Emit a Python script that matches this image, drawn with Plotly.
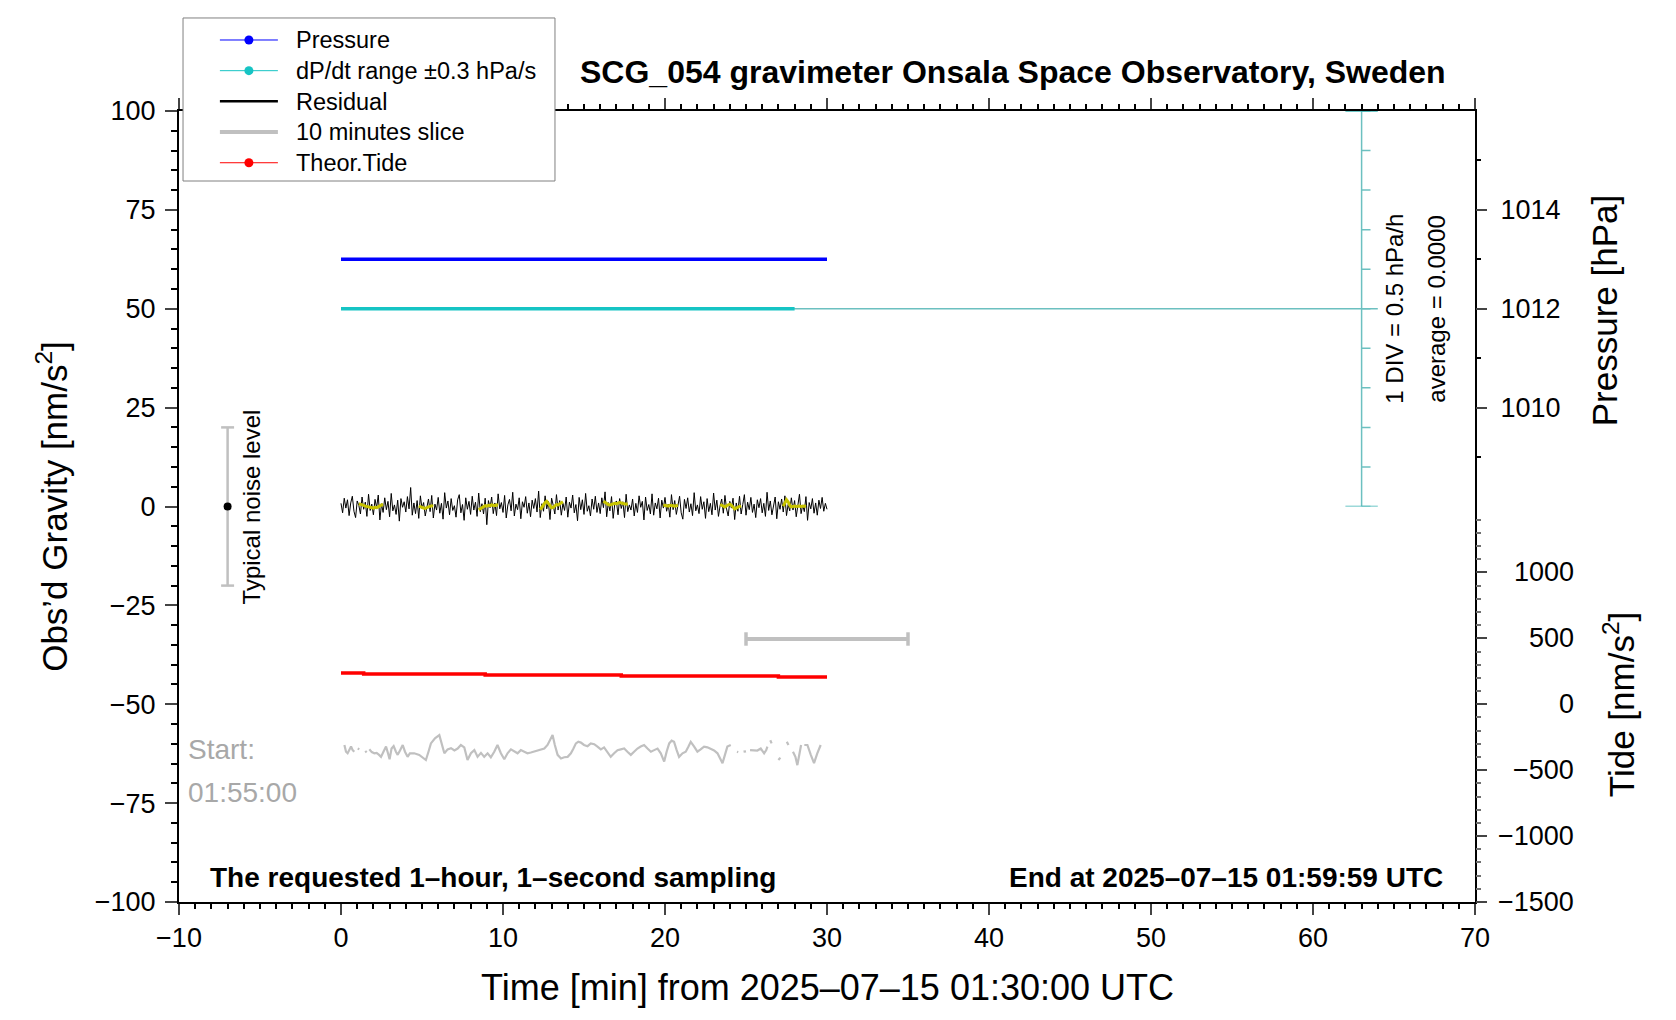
import numpy as np
import plotly.graph_objects as go

# ------------------------------------------------------------------ data
# Residual gravity (nm/s^2), one reading every 0.1 min from 0 to 30 min
residual_step_min = 0.1
residual_values = [
    0.8, -1.6, 2.1, -0.4, 1.7, -2.3, 0.9, 2.6, -1.2, -2.8, 1.4, 0.3, -1.9, 2.4, -0.7, 1.1, -2.5, 3.1, -1.0, 0.6,
    -2.1, 1.8, -0.3, 2.9, -3.4, 0.7, -1.5, 2.2, -0.8, 1.3, -2.6, 3.3, -1.1, 0.4, -2.0, 1.6, -3.7, 2.0, -0.2, 1.2,
    -1.4, 2.5, -0.6, 4.8, -2.2, 0.9, -1.8, 1.5, -3.0, 2.7, -0.5, 1.0, -2.4, 0.3, 1.9, -1.3, 2.8, -2.9, 0.6, -0.9,
    2.3, -1.7, 0.8, -3.2, 3.5, -0.4, 1.4, -2.1, 2.0, -1.0, 0.2, -2.7, 1.7, 3.0, -1.6, 0.5, -3.5, 2.2, -0.7, 1.3,
    -2.0, 2.6, -0.9, 1.1, -2.5, 3.4, -1.3, 0.7, -1.9, 2.1, -4.6, 1.5, -0.3, 2.4, -1.8, 0.9, -2.3, 3.2, -0.6, 1.0,
    -1.5, 2.8, -2.9, 0.4, 1.8, -1.1, 3.6, -2.4, 0.6, -0.8, 2.2, -3.1, 1.2, -0.2, 2.5, -1.7, 0.9, -2.6, 1.6, -0.5,
    2.0, -1.4, 3.9, -2.8, 0.7, -1.2, 2.7, -0.6, 1.3, -3.3, 2.1, 0.3, -1.9, 3.0, -0.9, 1.5, -2.2, 0.8, -1.0, 2.4,
    -2.7, 1.1, -0.4, 2.9, -1.6, 0.5, -3.6, 2.3, -0.8, 1.7, -2.0, 3.3, -1.2, 0.2, -2.4, 1.9, -0.7, 2.6, -1.5, 0.9,
    -1.8, 2.2, -0.3, 3.7, -2.6, 1.0, -1.1, 2.5, -3.0, 0.6, 1.4, -2.1, 2.0, -0.5, 1.2, -2.8, 3.1, -1.3, 0.4, -0.9,
    1.9, -2.4, 0.8, -1.5, 2.7, -0.2, 1.3, -3.4, 2.4, -1.0, 0.5, -1.9, 3.2, -2.2, 0.9, -0.6, 2.1, -2.9, 1.6, -0.4,
    2.3, -1.2, 0.6, -2.7, 3.0, -0.8, 1.5, -2.0, 0.3, 2.6, -1.6, -3.2, 1.8, -0.5, 2.2, -1.4, 0.7, -2.3, 3.5, -1.1,
    0.4, -1.8, 2.5, -0.7, 1.2, -3.0, 2.0, -1.3, 0.8, -2.1, 3.4, -0.9, 1.6, -2.5, 0.2, 1.9, -1.7, 2.8, -0.6, -2.4,
    1.3, -0.4, 2.1, -3.3, 0.9, -1.2, 2.6, -1.9, 0.5, 3.0, -2.2, 1.1, -0.8, 2.3, -1.5, 0.6, -2.8, 1.7, -0.3, 2.0,
    -1.6, 0.8, -2.5, 3.6, -1.0, 1.4, -2.1, 0.3, 2.4, -3.1, 1.2, -0.7, 1.9, -1.4, 2.7, -2.3, 0.5, -1.1, 2.2, -0.9,
    1.5, -2.6, 0.7, 3.1, -1.8, 0.4, -1.3, 2.5, -3.5, 1.0, -0.6, 2.0, -1.7, 0.9, -2.2, 1.6, -0.5, 2.3, -1.2, 0.8,
    -0.7,
]

# Smoothed residual windows (yellow), start minute of each window, 0.1 min step
smooth_starts = [1.1, 4.8, 8.5, 12.3, 16.2, 19.9, 23.4, 27.3]
smooth_segments = [
    [0.7, 0.6, 0.5, 0.3, 0.1, 0.0, -0.2, -0.3, -0.3, -0.4, -0.2, -0.3, -0.1, 0.2, 0.4, 0.5],
    [0.1, 0.0, -0.2, -0.4, -0.5, -0.3, -0.1, 0.0, 0.2, 0.1],
    [-0.8, -0.6, -0.2, 0.0, 0.2, 0.1, 0.3, 0.2, 0.4, 0.3, 0.2, 0.4, 0.3],
    [-0.8, -0.3, 0.4, 1.0, 1.3, 0.8, 0.2, -0.3, -0.2, 0.2, 0.5, 0.4, 0.6, 0.9, 1.2],
    [1.3, 1.0, 0.7, 0.5, 0.4, 0.6, 0.7, 0.8, 0.7, 0.9, 1.0, 0.9, 0.8, 0.7, 0.6, 0.7],
    [0.2, 0.3, 0.2, 0.1, 0.3, 0.2, 0.2, 0.1, 0.2, 0.3],
    [0.5, 0.3, 0.0, -0.1, 0.2, 0.5, 0.6, 0.3, -0.2, -0.6, -0.4, -0.1, 0.0, 0.1],
    [0.1, 1.0, 1.7, 1.2, 0.3, -0.1, 0.0, 0.1, 0.0, 0.1, 0.1, 0.0, 0.1, 0.1, 0.0],
]

# Pressure (hPa)
pressure_minutes = [0, 30]
pressure_hpa = [1013.0, 1013.0]

# dP/dt (hPa/h)
dpdt_minutes = [0, 28]
dpdt_hpa_h = [0.0, 0.0]
dpdt_average = 0.0
dpdt_div = 0.5          # hPa/h per division
dpdt_ndiv_half = 5

# Theoretical tide (nm/s^2), step values
tide_minutes = [0, 1.4, 8.9, 17.3, 27.0, 30.0]
tide_nms2 = [237, 230, 222, 215, 207, 207]

# 10 minutes slice (deviation in nm/s^2), None = gap
slice_minutes = [
    0.21, 0.31, 0.41, 0.52, 0.62, 0.72, 0.82, None,
    1.03, 1.13, None,
    1.50, 1.58, None,
    1.75, 1.90, 2.06, 2.20, 2.35, 2.47, 2.62, 2.78, 2.90, 3.00, 3.12, 3.25, 3.39, 3.50, 3.65, 3.81,
    3.95, 4.11, 4.25, 4.40, 4.52, 4.83, 5.05, 5.24, 5.40, 5.55, 5.80, 6.07, 6.38, 6.58, 6.79, 7.00,
    7.20, 7.40, 7.61, 7.81, 8.02, 8.23, 8.43, 8.64, 8.84, 9.05, 9.25, 9.46, 9.66, 9.87, 10.08, 10.28,
    10.49, 10.69, 10.90, 11.10, 11.30, 11.51, 11.72, 11.92, 12.13, 12.34, 12.55, 12.75, 12.90, 13.06,
    13.20, 13.37, 13.58, 13.78, 13.99, 14.19, 14.35, 14.50, 14.65, 14.81, 15.00, 15.22, 15.42, 15.63,
    15.83, 16.04, 16.24, 16.45, 16.65, 16.86, 17.07, 17.27, 17.48, 17.68, 17.89, 18.09, 18.30, 18.50,
    18.71, 18.92, 19.13, 19.33, 19.54, 19.74, 19.95, 20.10, 20.26, 20.41, 20.56, 20.72, 20.87, 21.08,
    21.28, 21.45, 21.59, 21.80, 22.00, 22.20, 22.41, 22.62, 22.82, 23.03, 23.24, 23.40, 23.55, 23.70,
    23.85, 24.06, None,
    24.44, 24.52, None,
    24.85, 25.00, None,
    25.25, 25.45, 25.70, 25.91, 26.05, 26.12, 26.25, 26.32, None,
    26.50, 26.58, None,
    27.00, 27.12, None,
    27.52, 27.62, None,
    27.90, 28.05, 28.17, 28.28, 28.40, None,
    28.60, 28.79, 29.00, 29.20, 29.40, 29.61,
]
slice_values = [
    1.7, 0.0, -0.4, 0.6, 1.3, 0.4, 0.0, None,
    0.8, 0.6, None,
    0.2, -0.2, None,
    0.6, -0.1, -0.4, -0.3, -0.8, -1.3, 0.0, 1.3, -0.4, -1.9, 0.8, 1.4, 0.0, -0.8, 0.4, 1.7,
    0.0, -1.3, -0.4, -0.3, -0.4, -0.8, -1.4, -2.1, 0.0, 2.1, 3.4, 4.2, -0.4, 0.6, 0.9, 0.3,
    0.8, 1.7, 1.1, -2.1, -0.4, 0.4, -1.3, -0.3, -1.3, -0.4, -1.4, 0.0, 1.7, -0.4, -1.9, -0.4,
    0.6, 0.0, -0.4, 0.4, 0.0, -0.4, -0.2, 0.0, 0.3, 0.4, 0.8, 1.7, 2.9, 4.2,
    1.7, -0.8, -1.7, -1.4, -1.3, -0.4, 0.8, 2.1, 2.5, 2.3, 1.7, 1.4, 2.1, 1.9,
    1.3, 0.6, 1.1, 0.0, -1.3, -0.4, 0.4, 0.6, 0.8, 0.0, -0.8, 0.0, 0.8, 1.3,
    1.7, 0.8, 0.0, 0.4, 0.8, -0.4, -2.5, 0.0, 2.1, 2.8, 2.5, 0.4, -1.3, -0.4,
    0.0, 1.3, 2.5, 1.3, 0.0, 0.6, 1.3, 1.1, 0.8, 0.3, -0.4, -1.7, -2.9, -0.8,
    1.3, 1.7, None,
    0.0, -0.1, None,
    0.0, 0.1, None,
    0.4, 0.4, 0.3, 0.8, 0.0, -0.4, 0.4, 1.3, None,
    2.9, 2.1, None,
    -2.1, -1.5, None,
    2.5, 1.7, None,
    0.0, -1.3, -3.4, -0.8, 1.7, None,
    1.7, 1.7, -0.8, -2.9, -0.4, 1.7,
]
slice_baseline = -62.0

noise_level = 20.0          # typical noise, +/- nm/s^2

gravity_ticks = [-100, -75, -50, -25, 0, 25, 50, 75, 100]
pressure_ticks = [1010, 1012, 1014]
pressure_minor = [1009, 1011, 1013, 1015]
tide_ticks = [-1500, -1000, -500, 0, 500, 1000]
tide_tick_labels = ["\u22121500", "\u22121000", "\u2212500", "0", "500", "1000"]
tide_minor = [v for v in range(-1400, 1500, 100) if v % 500 != 0]
time_ticks = [-10, 0, 10, 20, 30, 40, 50, 60, 70]

legend_names = ["Pressure", "dP/dt range \u00b10.3 hPa/s", "Residual", "10 minutes slice", "Theor.Tide"]

# ------------------------------------------------------------------ style
FONT = "Liberation Sans, Arial, Helvetica, sans-serif"
BLUE = "#0000ff"
CYAN = "#16c4c4"
CYAN_THIN = "#6cc0c0"
RED = "#ff0000"
GRAY = "#c0c0c0"
YELLOW = "#c8c400"
TICK_FONT = 27
TITLE_FONT = 35


def leg(name):
    return '<span style="font-size:23.5px">\u00a0\u00a0' + name + '</span>'


fig = go.Figure()

# ---- legend-only entries
fig.add_trace(go.Scatter(x=[None], y=[None], name=leg(legend_names[0]), mode="lines+markers",
                         line=dict(color=BLUE, width=1), marker=dict(color=BLUE, size=9)))
fig.add_trace(go.Scatter(x=[None], y=[None], name=leg(legend_names[1]), mode="lines+markers",
                         line=dict(color=CYAN, width=1), marker=dict(color=CYAN, size=9)))
fig.add_trace(go.Scatter(x=[None], y=[None], name=leg(legend_names[2]), mode="lines",
                         line=dict(color="black", width=2.5)))
fig.add_trace(go.Scatter(x=[None], y=[None], name=leg(legend_names[3]), mode="lines",
                         line=dict(color=GRAY, width=4)))
fig.add_trace(go.Scatter(x=[None], y=[None], name=leg(legend_names[4]), mode="lines+markers",
                         line=dict(color=RED, width=1), marker=dict(color=RED, size=9)))

# ---- typical noise bar
fig.add_trace(go.Scatter(x=[-7, -7], y=[-noise_level, noise_level], mode="lines",
                         line=dict(color=GRAY, width=2.5), showlegend=False, hoverinfo="skip"))
fig.add_trace(go.Scatter(x=[-7.4, -6.6, None, -7.4, -6.6],
                         y=[-noise_level, -noise_level, None, noise_level, noise_level], mode="lines",
                         line=dict(color=GRAY, width=2.5), showlegend=False, hoverinfo="skip"))
fig.add_trace(go.Scatter(x=[-7], y=[0], mode="markers", marker=dict(color="black", size=8),
                         showlegend=False, hoverinfo="skip"))

# ---- 10 minutes slice scale bar
fig.add_trace(go.Scatter(x=[25, 35], y=[-33.5, -33.5], mode="lines",
                         line=dict(color=GRAY, width=4), showlegend=False, hoverinfo="skip"))
fig.add_trace(go.Scatter(x=[25, 25, None, 35, 35], y=[-35.2, -31.8, None, -35.2, -31.8], mode="lines",
                         line=dict(color=GRAY, width=3.5), showlegend=False, hoverinfo="skip"))

# ---- dP/dt scale bar (on dP/dt axis)
half = dpdt_div * dpdt_ndiv_half
fig.add_trace(go.Scatter(x=[0, 64], y=[dpdt_average, dpdt_average], yaxis="y4", mode="lines",
                         line=dict(color=CYAN_THIN, width=1.5), showlegend=False, hoverinfo="skip"))
fig.add_trace(go.Scatter(x=[63, 63], y=[-half, half], yaxis="y4", mode="lines",
                         line=dict(color=CYAN_THIN, width=1.5), showlegend=False, hoverinfo="skip"))
tx, ty = [], []
for k in range(-dpdt_ndiv_half, dpdt_ndiv_half + 1):
    tx += [63, 63.55, None]
    ty += [k * dpdt_div, k * dpdt_div, None]
fig.add_trace(go.Scatter(x=tx, y=ty, yaxis="y4", mode="lines",
                         line=dict(color=CYAN_THIN, width=1.5), showlegend=False, hoverinfo="skip"))
fig.add_trace(go.Scatter(x=[62, 64, None, 62, 64], y=[-half, -half, None, half, half], yaxis="y4",
                         mode="lines", line=dict(color="#3cb4b4", width=1.5), showlegend=False,
                         hoverinfo="skip"))

# ---- dP/dt data
fig.add_trace(go.Scatter(x=dpdt_minutes, y=dpdt_hpa_h, yaxis="y4", mode="lines",
                         line=dict(color=CYAN, width=3.5), showlegend=False, hoverinfo="skip"))

# ---- pressure
fig.add_trace(go.Scatter(x=pressure_minutes, y=pressure_hpa, yaxis="y2", mode="lines",
                         line=dict(color=BLUE, width=3.5), showlegend=False))

# ---- residual
res_t = np.arange(len(residual_values)) * residual_step_min
fig.add_trace(go.Scatter(x=res_t, y=residual_values, mode="lines",
                         line=dict(color="black", width=1), showlegend=False))

# ---- smoothed windows
sx, sy = [], []
for start, seg in zip(smooth_starts, smooth_segments):
    sx += list(start + np.arange(len(seg)) * residual_step_min) + [None]
    sy += list(seg) + [None]
fig.add_trace(go.Scatter(x=sx, y=sy, mode="lines", line=dict(color=YELLOW, width=3),
                         showlegend=False, hoverinfo="skip"))

# ---- tide
fig.add_trace(go.Scatter(x=tide_minutes, y=tide_nms2, yaxis="y3", mode="lines", line_shape="hv",
                         line=dict(color=RED, width=3.5), showlegend=False))

# ---- slice
slice_y = [None if v is None else slice_baseline + v for v in slice_values]
fig.add_trace(go.Scatter(x=slice_minutes, y=slice_y, mode="lines", connectgaps=False,
                         line=dict(color=GRAY, width=2.2), showlegend=False))

# ------------------------------------------------------------------ annotations
ann = []
ann.append(dict(text="<b>SCG_054 gravimeter Onsala Space Observatory, Sweden</b>", xref="paper", yref="paper",
                x=0.6435, y=1.049, showarrow=False, font=dict(size=32), xanchor="center", yanchor="middle"))
ann.append(dict(text="Time [min] from 2025\u201307\u201315 01:30:00 UTC", xref="paper", yref="paper",
                x=0.5, y=-0.1075, showarrow=False, font=dict(size=36), xanchor="center",
                yanchor="middle"))
ann.append(dict(text="Obs\u2019d Gravity [nm/s<sup>2</sup>]", xref="paper", yref="paper",
                x=-0.0985, y=0.5, textangle=-90, showarrow=False, font=dict(size=TITLE_FONT),
                xanchor="center", yanchor="middle"))
ann.append(dict(text="Pressure [hPa]", xref="paper", yref="paper", x=1.0995, y=0.748, textangle=-90,
                showarrow=False, font=dict(size=TITLE_FONT), xanchor="center", yanchor="middle"))
ann.append(dict(text="Tide [nm/s<sup>2</sup>]", xref="paper", yref="paper", x=1.1112, y=0.249, textangle=-90,
                showarrow=False, font=dict(size=TITLE_FONT), xanchor="center", yanchor="middle"))
for v, lab in zip(tide_ticks, tide_tick_labels):
    ann.append(dict(text=lab, xref="paper", yref="y3", x=1, y=v, xshift=101, showarrow=False,
                    xanchor="right", yanchor="middle", font=dict(size=TICK_FONT)))
ann.append(dict(text="Typical noise level", x=-5.5, y=0, textangle=-90, showarrow=False,
                font=dict(size=24), xanchor="center", yanchor="middle"))
ann.append(dict(text="1 DIV = 0.5 hPa/h", x=65.06, y=0, yref="y4", textangle=-90, showarrow=False,
                font=dict(size=24), xanchor="center", yanchor="middle"))
ann.append(dict(text="average = 0.0000", x=67.65, y=0, yref="y4", textangle=-90, showarrow=False,
                font=dict(size=24), xanchor="center", yanchor="middle"))
ann.append(dict(text="Start:", x=-9.57, y=-61.4, showarrow=False, font=dict(size=28, color="#a8a8a8"),
                xanchor="left", yanchor="middle"))
ann.append(dict(text="01:55:00", x=-9.57, y=-72.2, showarrow=False, font=dict(size=28, color="#a8a8a8"),
                xanchor="left", yanchor="middle"))
ann.append(dict(text="<b>The requested 1\u2013hour, 1\u2013second sampling</b>", x=-8.2, y=-93.7,
                showarrow=False, font=dict(size=28), xanchor="left", yanchor="middle"))
ann.append(dict(text="<b>End at 2025\u201307\u201315 01:59:59 UTC</b>", x=68.15, y=-93.7,
                showarrow=False, font=dict(size=28), xanchor="right", yanchor="middle"))

# legend frame (drawn over the axis frame, like the reference)
legend_frame = dict(type="rect", xref="paper", yref="paper", x0=0.0031, x1=0.2901, y0=0.9115, y1=1.1176,
                    fillcolor="white", line=dict(color="#808080", width=1), layer="above")

fig.update_layout(
    width=1676, height=1020,
    margin=dict(l=179, r=201, t=111, b=118, pad=0),
    paper_bgcolor="white", plot_bgcolor="rgba(0,0,0,0)",
    font=dict(family=FONT, size=TICK_FONT, color="black"),
    annotations=ann,
    shapes=[legend_frame],
    hovermode=False,
    legend=dict(x=0.0277, y=1.1155, xanchor="left", yanchor="top", bgcolor="rgba(0,0,0,0)",
                borderwidth=0, font=dict(size=21.3), itemwidth=58,
                tracegroupgap=0, traceorder="normal"),
    xaxis=dict(range=[-10, 70], tickvals=time_ticks, ticks="outside", ticklen=11, tickwidth=2,
               showline=True, linewidth=2, linecolor="black", mirror="ticks", showgrid=False,
               zeroline=False, anchor="y", tickfont=dict(size=TICK_FONT), ticklabelstandoff=0,
               minor=dict(dtick=1, tick0=0, ticklen=5, tickwidth=1.5, ticks="outside", tickcolor="black")),
    yaxis=dict(range=[-100, 100], tickvals=gravity_ticks, ticks="outside", ticklen=12, tickwidth=2,
               showline=True, linewidth=2, linecolor="black", mirror=True, showgrid=False,
               zeroline=False, tickfont=dict(size=TICK_FONT), ticklabelstandoff=4,
               minor=dict(dtick=5, tick0=0, ticklen=6, tickwidth=1.5, ticks="outside", tickcolor="black")),
    yaxis2=dict(domain=[0.5, 1], range=[1008, 1016], anchor="x", side="right", tickvals=pressure_ticks,
                ticks="outside", ticklen=11, tickwidth=2, showline=False, showgrid=False, zeroline=False,
                tickfont=dict(size=TICK_FONT), ticklabelstandoff=8,
                minor=dict(tickvals=pressure_minor, ticklen=5, tickwidth=1.5, ticks="outside",
                           tickcolor="black")),
    yaxis3=dict(domain=[0, 0.5], range=[-1500, 1500], anchor="x", side="right", tickvals=tide_ticks,
                showticklabels=False, ticks="outside", ticklen=11, tickwidth=2, showline=False,
                showgrid=False, zeroline=False,
                minor=dict(tickvals=tide_minor, ticklen=5, tickwidth=1.5, ticks="outside",
                           tickcolor="#707070")),
    yaxis4=dict(range=[-half, half], overlaying="y2", visible=False),
)

fig.write_html("out.html", config={"displayModeBar": False},
               post_script="document.body.style.margin='0';document.body.style.overflow='hidden';")
